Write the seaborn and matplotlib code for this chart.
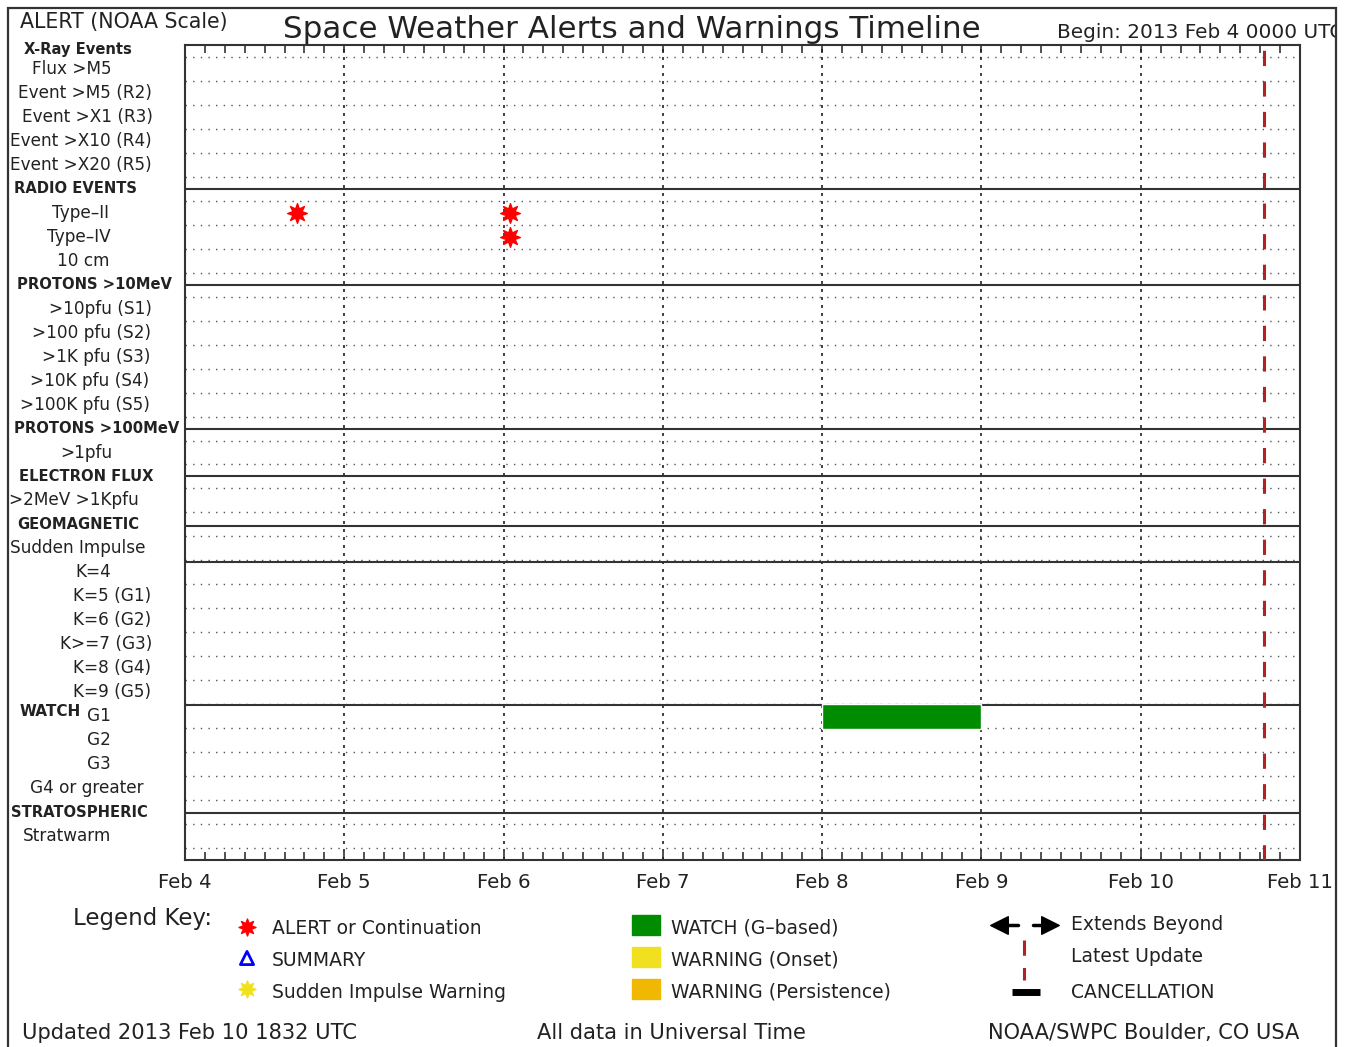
import matplotlib
matplotlib.use('Agg')
import matplotlib.pyplot as plt
import matplotlib.transforms as mtransforms
from matplotlib.patches import Rectangle
import pandas as pd
import seaborn as sns

sns.set_style('white')
plt.rcParams['font.family'] = ['DejaVu Sans']

W, H = 1346, 1047

# row labels, top to bottom (one row = one unit on the y axis)
row_labels = ['X-Ray Events', 'Flux >M5', 'Event >M5 (R2)', 'Event >X1 (R3)',
              'Event >X10 (R4)', 'Event >X20 (R5)', 'RADIO EVENTS', 'Type-II',
              'Type-IV', '10 cm', 'PROTONS >10MeV', '>10pfu (S1)', '>100 pfu (S2)',
              '>1K pfu (S3)', '>10K pfu (S4)', '>100K pfu (S5)', 'PROTONS >100MeV',
              '>1pfu', 'ELECTRON FLUX', '>2MeV >1Kpfu', 'GEOMAGNETIC', 'Sudden Impulse',
              'K=4', 'K=5 (G1)', 'K=6 (G2)', 'K>=7 (G3)', 'K=8 (G4)', 'K=9 (G5)',
              'G1', 'G2', 'G3', 'G4 or greater', 'STRATOSPHERIC', 'Stratwarm']
header_rows = ['X-Ray Events', 'RADIO EVENTS', 'PROTONS >10MeV', 'PROTONS >100MeV',
               'ELECTRON FLUX', 'GEOMAGNETIC', 'STRATOSPHERIC']
# label centre x in pixels (layout only)
label_cx = [78, 72, 85, 87, 81, 81, 76, 81, 79, 83, 94, 100, 91, 96, 90, 85, 97, 86,
            86, 74, 78, 78, 93, 112, 112, 106, 112, 112, 99, 99, 99, 87, 79, 67]
section_lines = [6, 10, 16, 18, 20.05, 21.55, 27.55, 32.05]

day_labels = ['Feb 4', 'Feb 5', 'Feb 6', 'Feb 7', 'Feb 8', 'Feb 9', 'Feb 10', 'Feb 11']

# events, time in days since 2013 Feb 4 0000 UTC
alert_rows = ['Type-II', 'Type-II', 'Type-IV']
alert_times = [0.70, 2.04, 2.04]
watch_rows = ['G1']
watch_start = [4.0]
watch_end = [5.0]
latest_update = 6.772  # Feb 10 1832

GREEN = '#008c00'
YELLOW = '#f0e020'
ORANGE = '#f0b800'
DRED = '#b22222'
TXT = '#222222'

fig = plt.figure(figsize=(W / 100, H / 100), dpi=100)
ax = fig.add_axes([185 / W, 1 - 860 / H, (1300 - 185) / W, 815 / H])
lay = fig.add_axes([0, 0, 1, 1], zorder=-1)
lay.set_xlim(0, W)
lay.set_ylim(H, 0)
lay.axis('off')

ax.set_xlim(0, 7)
ax.set_ylim(34, 0)

# grid
for k in range(34):
    ax.axhline(k + 0.5, color='#555555', lw=1.0, ls=(0, (1, 4.5)), zorder=1)
for d in range(1, 7):
    ax.axvline(d, color='#222222', lw=1.2, ls=(0, (1.8, 3)), zorder=1)
for s in section_lines:
    ax.axhline(s, color='#333333', lw=1.5, zorder=2)

# watch bars
ypos = {lab: i for i, lab in enumerate(row_labels)}
ax.barh([ypos[r] + 0.03 for r in watch_rows], [e - s for s, e in zip(watch_start, watch_end)],
        left=watch_start, height=1.04, color=GREEN, zorder=3)

# alerts
alerts = pd.DataFrame({'t': alert_times, 'y': [ypos[r] for r in alert_rows]})
sns.scatterplot(data=alerts, x='t', y='y', ax=ax, marker=(8, 1, 0), s=200,
                color='red', edgecolor='red', linewidth=1, zorder=4, legend=False)

ax.axvline(latest_update, color=DRED, lw=2.2, ls=(0, (5, 5)), zorder=5)

# axes styling
ax.set_xticks(range(8))
ax.set_xticklabels(day_labels, fontsize=14.2, color=TXT)
ax.set_xticks([i / 8 for i in range(57)], minor=True)
ax.tick_params(axis='x', which='both', direction='in', top=True, bottom=True,
               length=6, width=1.2, color='#333333', pad=9)
ax.set_yticks([])
ax.set_xlabel('')
ax.set_ylabel('')
for sp in ax.spines.values():
    sp.set_color('#333333')
    sp.set_linewidth(1.5)

# row labels
trans = mtransforms.blended_transform_factory(lay.transData, ax.transData)
for i, (lab, cx) in enumerate(zip(row_labels, label_cx)):
    y = i + 0.2 if i == 0 else i
    bold = lab in header_rows
    ax.text(cx, y, lab.replace('-', '\u2013') if lab.startswith('Type') else lab,
            transform=trans, ha='center', va='center',
            fontsize=10.6 if bold else 12.2,
            fontweight='bold' if bold else 'normal', color=TXT, clip_on=False)
lay.text(20, 711, 'WATCH', ha='left', va='center', fontsize=11, fontweight='bold', color=TXT)

# header texts
lay.text(20, 22, 'ALERT (NOAA Scale)', ha='left', va='center', fontsize=14.8, color=TXT)
lay.text(632, 30, 'Space Weather Alerts and Warnings Timeline', ha='center', va='center',
         fontsize=22.3, color=TXT)
lay.text(1057, 33, 'Begin: 2013 Feb 4 0000 UTC', ha='left', va='center', fontsize=14.4, color=TXT)

# legend key
lay.text(73, 918, 'Legend Key:', ha='left', va='center', fontsize=16.5, color=TXT)
lay.scatter([247], [927], marker=(8, 1, 0), s=150, color='red', linewidths=1)
lay.scatter([247], [958], marker='^', s=90, facecolors='none', edgecolors='blue', linewidths=2)
lay.scatter([247], [989], marker=(8, 1, 0), s=150, color=YELLOW, linewidths=1)
lay.text(272, 928, 'ALERT or Continuation', ha='left', va='center', fontsize=13.5, color=TXT)
lay.text(272, 960, 'SUMMARY', ha='left', va='center', fontsize=13.5, color=TXT)
lay.text(272, 992, 'Sudden Impulse Warning', ha='left', va='center', fontsize=13.5, color=TXT)

for yy, c in zip([915, 947, 979], [GREEN, YELLOW, ORANGE]):
    lay.add_patch(Rectangle((632, yy), 28, 20, color=c))
lay.text(671, 928, 'WATCH (G\u2013based)', ha='left', va='center', fontsize=13.5, color=TXT)
lay.text(671, 960, 'WARNING (Onset)', ha='left', va='center', fontsize=13.5, color=TXT)
lay.text(671, 992, 'WARNING (Persistence)', ha='left', va='center', fontsize=13.5, color=TXT)

lay.plot([1000, 1018], [925, 925], color='black', lw=2.5)
lay.plot([1033, 1050], [925, 925], color='black', lw=2.5)
lay.scatter([999], [925], marker='<', s=160, color='black')
lay.scatter([1050], [925], marker='>', s=160, color='black')
lay.plot([1024, 1024], [940, 980], color=DRED, lw=2.2, ls=(0, (5, 4)))
lay.plot([1012, 1040], [992, 992], color='black', lw=5, solid_capstyle='butt')
lay.text(1071, 924, 'Extends Beyond', ha='left', va='center', fontsize=13.5, color=TXT)
lay.text(1071, 956, 'Latest Update', ha='left', va='center', fontsize=13.5, color=TXT)
lay.text(1071, 992, 'CANCELLATION', ha='left', va='center', fontsize=13.5, color=TXT)

# footer
lay.text(22, 1033, 'Updated 2013 Feb 10 1832 UTC', ha='left', va='center', fontsize=15.1, color=TXT)
lay.text(537, 1033, 'All data in Universal Time', ha='left', va='center', fontsize=15.1, color=TXT)
lay.text(988, 1033, 'NOAA/SWPC Boulder, CO USA', ha='left', va='center', fontsize=15.1, color=TXT)

# outer frame, clip anything past the right border
fig.patches.append(Rectangle((1337 / W, 0), 1, 1, transform=fig.transFigure,
                             facecolor='white', edgecolor='none', zorder=10))
fig.patches.append(Rectangle((8 / W, -0.1), (1336 - 8) / W, 1.1 - 8 / H,
                             transform=fig.transFigure, fill=False,
                             edgecolor='#333333', linewidth=1.6, zorder=11))

fig.savefig('out.png', dpi=100)
